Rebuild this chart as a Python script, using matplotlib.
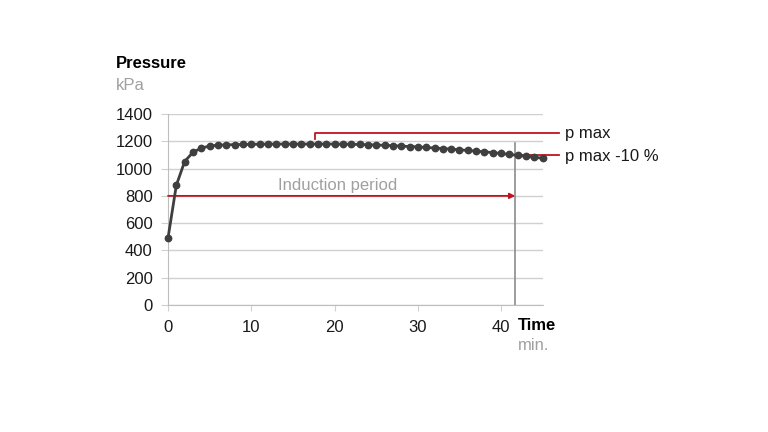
import matplotlib.pyplot as plt
import numpy as np

plt.rcParams['font.family'] = ['Liberation Sans', 'DejaVu Sans']

# pressure curve, one point per minute
time_min = list(range(0, 46))
pressure = [490, 878, 1052, 1120, 1150, 1166, 1172, 1174, 1176, 1177,
            1178, 1179, 1179, 1180, 1180, 1180, 1180, 1180, 1180, 1180,
            1180, 1179, 1178, 1177, 1175, 1173, 1171, 1168, 1165, 1162,
            1159, 1155, 1151, 1147, 1143, 1138, 1133, 1128, 1123, 1117,
            1111, 1104, 1097, 1090, 1083, 1076]

x_ticks = [0, 10, 20, 30, 40]
y_ticks = [0, 200, 400, 600, 800, 1000, 1200, 1400]

t_end = 41.7        # end of induction period
t_pmax = 17.7       # where p max marker starts
pmax_level = 1260
p10_level = 1100
arrow_level = 800

RED = '#c0141c'
GRID = '#d0d0d0'
DARK = '#3f3f3f'
FS = 12

fig = plt.figure(figsize=(7.68, 4.32), dpi=100)
ax = fig.add_axes([0.21875, 0.294, 0.488, 0.442])

ax.set_xlim(0, 45)
ax.set_ylim(0, 1400)
ax.set_xticks(x_ticks)
ax.set_yticks(y_ticks)
ax.grid(axis='y', color=GRID, lw=1)
ax.set_axisbelow(True)
for s in ['top', 'right']:
    ax.spines[s].set_visible(False)
for s in ['left', 'bottom']:
    ax.spines[s].set_color('#bdbdbd')
ax.tick_params(axis='y', length=5, color=GRID, labelsize=FS, pad=6, labelcolor='#1a1a1a')
ax.tick_params(axis='x', length=4, color=GRID, labelsize=FS, pad=7, labelcolor='#1a1a1a')

# induction period end
ax.plot([t_end, t_end], [0, 1190], color='#8c8c8c', lw=1.2, zorder=2)

ax.plot(time_min, pressure, color=DARK, lw=2, marker='o', ms=4.6, zorder=4, clip_on=False)

# p max marker
ax.plot([t_pmax, t_pmax, 47.0], [1215, pmax_level, pmax_level], color=RED, lw=1.3,
        clip_on=False, zorder=3)
ax.plot([t_end, 47.0], [p10_level, p10_level], color=RED, lw=1.3, clip_on=False, zorder=3)
ax.text(47.7, pmax_level, 'p max', fontsize=FS, va='center', ha='left', color='#1a1a1a')
ax.text(47.7, p10_level - 10, 'p max -10 %', fontsize=FS, va='center', ha='left', color='#1a1a1a')

# induction period arrow
ax.annotate('', xy=(t_end, arrow_level), xytext=(0, arrow_level),
            arrowprops=dict(arrowstyle='-|>', color=RED, lw=1.3, mutation_scale=8,
                            shrinkA=0, shrinkB=0), zorder=3)
ax.text(20.4, 875, 'Induction period', fontsize=FS, ha='center', va='center', color='#a0a0a0')

# axis titles
fig.text(116 / 768, 1 - 64 / 432, 'Pressure', fontsize=FS, fontweight='bold', va='center', ha='left')
fig.text(116 / 768, 1 - 85 / 432, 'kPa', fontsize=FS, color='#a0a0a0', va='center', ha='left')
fig.text(518 / 768, 1 - 326 / 432, 'Time', fontsize=FS, fontweight='bold', va='center', ha='left')
fig.text(518 / 768, 1 - 346 / 432, 'min.', fontsize=FS, color='#a0a0a0', va='center', ha='left')

fig.savefig('out.png', dpi=100)
